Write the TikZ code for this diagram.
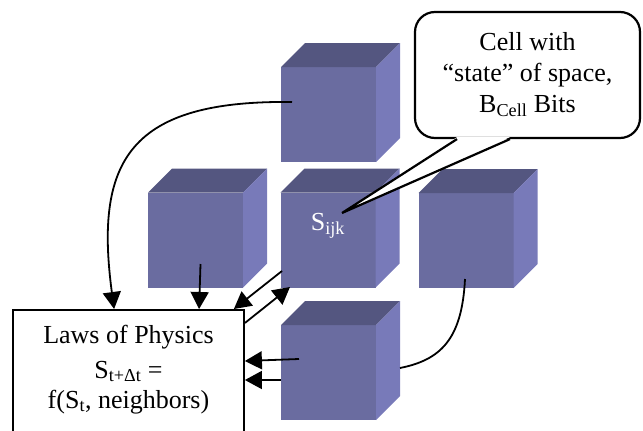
\documentclass[tikz,border=0pt]{standalone}
\usepackage{fontspec}
\setmainfont{Liberation Serif}
\usetikzlibrary{arrows.meta}

\definecolor{cellfront}{HTML}{6A6CA0}
\definecolor{celltopc}{HTML}{545680}
\definecolor{cellsidec}{HTML}{787AB9}

\tikzset{
  cellface/.style={fill=cellfront, minimum width=95pt, minimum height=95pt, inner sep=0pt, outer sep=0pt},
  celltop/.style={fill=celltopc},
  cellside/.style={fill=cellsidec},
  celllabel/.style={text=white, font=\fontsize{26}{31}\selectfont, inner sep=0pt},
  lawbox/.style={draw, line width=1.8pt, fill=white, minimum width=231pt, align=center,
    font=\fontsize{26}{31}\selectfont, inner ysep=15pt, text depth=120pt},
  notebox/.style={draw, line width=2.2pt, fill=white, rounded corners=20pt, minimum width=225pt,
    minimum height=126pt, align=center, font=\fontsize{26}{31}\selectfont},
  flow/.style={line width=1.8pt, -{Triangle[length=17pt,width=18pt]}},
  link/.style={line width=1.8pt}
}

% one cell: front face node, top and side faces
\newcommand\drawcell[2]{
  \node[cellface] (#1) at (#2) {};
  \fill[celltop] (#1.north west) -- ++(24,-24) -- ++(95,0) -- (#1.north east) -- cycle;
  \fill[cellside] (#1.north east) -- ++(24,-24) -- ++(0,95) -- (#1.south east) -- cycle;
}

\begin{document}
\begin{tikzpicture}[x=1pt,y=-1pt]
  \useasboundingbox (0,0) rectangle (643,431);

  % cells
  \drawcell{above}{328.5,114.5}
  \drawcell{left}{195.5,240}
  \drawcell{center}{328,240}
  \drawcell{right}{466,240.5}
  \drawcell{below}{328.5,372.5}
  \node[celllabel] (sijk) at ([yshift=14pt]center.center) {S\textsubscript{ijk}};

  % laws box
  \node[lawbox, anchor=north] (laws) at (128.5,309)
    {Laws of Physics\\[4pt] S\textsubscript{t+Δt} =\\[-1pt] f(S\textsubscript{t}, neighbors)};

  % callout
  \node[notebox] (note) at (527.5,75) {Cell with\\ “state” of space,\\ B\textsubscript{Cell} Bits};
  \fill[white] ([xshift=-70.5pt,yshift=2pt]note.south) -- ([xshift=-17.5pt,yshift=2pt]note.south) -- ([xshift=14pt,yshift=13pt]sijk.center) -- cycle;
  \draw[line width=2.2pt, line join=miter] ([xshift=-70.5pt]note.south) -- ([xshift=14pt,yshift=13pt]sijk.center) -- ([xshift=-17.5pt]note.south);

  % connectors
  \draw[flow] ([xshift=-36.5pt,yshift=12.5pt]above.center) .. controls +(-162,-2) and +(-20,-149) .. ([xshift=102pt]laws.north west);
  \draw[flow] ([xshift=5pt,yshift=-24pt]left.center) -- ([xshift=187pt]laws.north west);
  \draw[flow] ([xshift=-46pt,yshift=-31pt]center.center) -- ([xshift=-11pt]laws.north east);
  \draw[flow] ([yshift=-14pt]laws.north east) -- ([xshift=-38pt,yshift=-47pt]center.center);
  \draw[flow] ([xshift=-29.5pt,yshift=13.5pt]below.center) -- ([yshift=-52pt]laws.north east);
  \draw[flow] ([yshift=-7.5pt]below.west) -- ([yshift=-71pt]laws.north east);
  \draw[link] ([xshift=-1pt,yshift=-38.5pt]right.center) .. controls +(-3,61) and +(40,-8) .. ([xshift=24pt,yshift=4.5pt]below.east);
\end{tikzpicture}
\end{document}
